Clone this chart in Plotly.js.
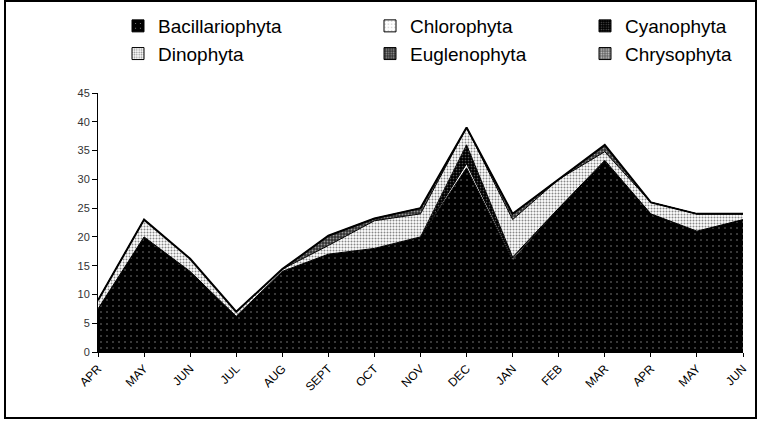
<!DOCTYPE html>
<html>
<head>
<meta charset="utf-8">
<script src="https://cdn.plot.ly/plotly-3.0.1.min.js"></script>
<style>
html,body{margin:0;padding:0;background:#fff;}
#wrap{position:absolute;left:0;top:0;width:761px;height:422px;}
#frame{position:absolute;left:4px;top:0px;width:749px;height:415px;border:2px solid #000;pointer-events:none;}
#chart{position:absolute;left:0;top:0;width:761px;height:422px;}
</style>
</head>
<body>
<div id="wrap"><div id="chart"></div><div id="frame"></div></div>
<script>
const months = ["APR","MAY","JUN","JUL","AUG","SEPT","OCT","NOV","DEC","JAN","FEB","MAR","APR","MAY","JUN"];
const bacillariophyta = [7.5, 20, 14, 6.2, 14, 17, 18, 20, 32, 16, 25, 33, 24, 21, 23];
const chlorophyta     = [0, 0, 0, 0, 0, 0, 0, 0, 0.7, 0.3, 0, 0, 0, 0, 0];
const cyanophyta      = [0, 0, 0, 0, 0, 0, 0, 0, 3.3, 0.2, 0, 0.3, 0, 0, 0];
const dinophyta       = [1.5, 3, 2.2, 0.8, 0.4, 1.5, 4.8, 4, 3, 6.5, 5, 1.5, 2, 3, 1];
const euglenophyta    = [0, 0, 0, 0, 0, 1.7, 0.4, 1, 0, 1, 0, 1, 0, 0, 0];
const chrysophyta     = [0, 0, 0, 0, 0, 0, 0, 0, 0, 0, 0, 0.2, 0, 0, 0];

const xs = months.map((m, i) => i);
const names = ["Bacillariophyta","Chlorophyta","Cyanophyta","Dinophyta","Euglenophyta","Chrysophyta"];
const series = [bacillariophyta, chlorophyta, cyanophyta, dinophyta, euglenophyta, chrysophyta];
const legendOf = ["legend","legend2","legend3","legend","legend2","legend3"];
const patterns = [
  {shape:'.', bgcolor:'#000', fgcolor:'#9a9a9a', size:6, solidity:0.04},
  {shape:'.', bgcolor:'#fff', fgcolor:'#999', size:4, solidity:0.08},
  {shape:'.', bgcolor:'#000', fgcolor:'#555', size:3, solidity:0.25},
  {shape:'.', bgcolor:'#fff', fgcolor:'#888', size:3, solidity:0.35},
  {shape:'.', bgcolor:'#333', fgcolor:'#999', size:3, solidity:0.3},
  {shape:'.', bgcolor:'#666', fgcolor:'#ccc', size:3, solidity:0.3}
];
const areaTraces = series.map((vals, k) => ({
  x: xs, y: vals, name: names[k], type: 'scatter', mode: 'lines',
  stackgroup: 'one', showlegend: false,
  line: {color: '#000', width: k === 5 ? 2 : 1},
  fillcolor: patterns[k].bgcolor,
  fillpattern: patterns[k],
  hoverinfo: 'skip'
}));
// legend-only proxies (no data drawn)
const legendTraces = series.map((vals, k) => ({
  x: [null], y: [null], name: names[k], type: 'bar', legend: legendOf[k],
  showlegend: true,
  marker: {color: patterns[k].bgcolor, pattern: patterns[k], line: {color: '#000', width: 1}},
  hoverinfo: 'skip'
}));

const legFont = {size: 19, family: 'Liberation Sans, Arial, sans-serif', color: '#000'};
const legBase = {orientation: 'v', xanchor: 'left', yanchor: 'top', y: 1.332,
  traceorder: 'normal', font: legFont, itemwidth: 30, bgcolor: 'rgba(0,0,0,0)'};

const layout = {
  width: 761, height: 422,
  margin: {l: 98, r: 18, t: 93, b: 70, autoexpand: false},
  paper_bgcolor: '#fff', plot_bgcolor: '#fff',
  font: {family: 'Liberation Sans, Arial, sans-serif', color: '#000'},
  showlegend: true,
  legend: Object.assign({}, legBase, {x: (118 - 98) / 645}),
  legend2: Object.assign({}, legBase, {x: (370 - 98) / 645}),
  legend3: Object.assign({}, legBase, {x: (585 - 98) / 645}),
  xaxis: {
    range: [0, 14], tickmode: 'array', tickvals: xs, ticktext: months,
    tickangle: -45, ticks: 'outside', ticklen: 4, tickcolor: '#000',
    showline: true, linecolor: '#000', linewidth: 1, showgrid: false, zeroline: false,
    tickfont: {size: 12, color: '#000'}
  },
  yaxis: {
    range: [0, 45], dtick: 5, ticks: 'outside', ticklen: 5, tickcolor: '#000',
    showline: true, linecolor: '#000', linewidth: 1, showgrid: false, zeroline: false,
    tickfont: {size: 11, color: '#333'}
  }
};
Plotly.newPlot('chart', areaTraces.concat(legendTraces), layout, {displayModeBar: false, staticPlot: true});
</script>
</body>
</html>
